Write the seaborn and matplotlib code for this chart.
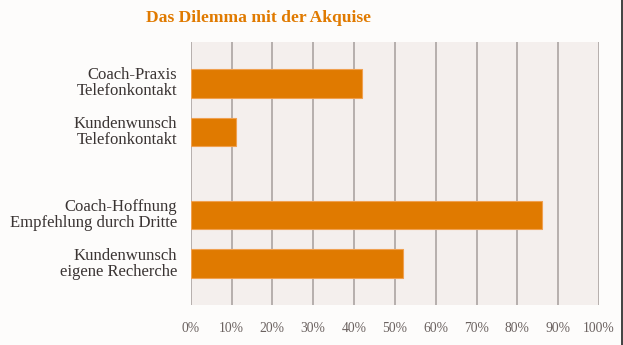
import matplotlib
matplotlib.use("Agg")
import matplotlib.pyplot as plt
import matplotlib.transforms as mtransforms
import seaborn as sns
import pandas as pd
from matplotlib.lines import Line2D
from matplotlib.ticker import FuncFormatter

categories = ["Coach-Praxis\nTelefonkontakt",
              "Kundenwunsch\nTelefonkontakt",
              "Coach-Hoffnung\nEmpfehlung durch Dritte",
              "Kundenwunsch\neigene Recherche"]
values = [42, 11, 86, 52]
x_ticks = [0, 10, 20, 30, 40, 50, 60, 70, 80, 90, 100]
title = "Das Dilemma mit der Akquise"

# layout: vertical slot of each bar (gap between the two groups)
slots = [0.0, 1.0, 2.71, 3.71]

sns.set_theme(style="white")
plt.rcParams["font.family"] = ["Liberation Serif", "DejaVu Serif"]

ORANGE = "#E07A00"
GRID = "#ABA4A2"
PLOTBG = "#F4EFED"
FIGBG = "#FDFCFB"

df = pd.DataFrame({"cat": categories, "val": values, "pos": slots})

fig = plt.figure(figsize=(6.23, 3.45), dpi=100, facecolor=FIGBG)
ax = fig.add_axes([190.7 / 623, 1 - 305 / 345, (599 - 190.7) / 623, (305 - 41.7) / 345])
ax.set_facecolor(PLOTBG)

sns.barplot(data=df, x="val", y="pos", orient="h", native_scale=True,
            color=ORANGE, saturation=1, width=0.59, edgecolor="#F0A050",
            linewidth=0.8, ax=ax, zorder=3)

ax.set_xlim(0, 100)
ax.set_ylim(slots[-1] + 0.85, slots[0] - 0.855)
ax.set_xticks(x_ticks)
ax.xaxis.set_major_formatter(FuncFormatter(lambda v, p: f"{int(v)}%"))
ax.set_yticks(slots)
ax.set_yticklabels([])
ax.tick_params(axis="y", length=0)
ax.tick_params(axis="x", length=8, width=1.2, color=GRID, pad=4,
               labelsize=9.8, labelcolor="#6B6260")

# category labels, right aligned line by line
lab_tr = ax.get_yaxis_transform() + mtransforms.ScaledTranslation(-13.5 / 100, 0, fig.dpi_scale_trans)
for cat, pos in zip(categories, slots):
    ax.text(0, pos, cat, transform=lab_tr, ha="right", va="center", ma="right",
            fontsize=12, color="#3A3433", linespacing=0.98)

ax.grid(axis="x", color=GRID, linewidth=1.2, zorder=1)
ax.set_axisbelow(True)
for s in ax.spines.values():
    s.set_visible(False)
ax.set_xlabel("")
ax.set_ylabel("")

fig.text(259 / 623, 1 - 22.3 / 345, title, ha="center", va="baseline",
         fontsize=12.6, fontweight="bold", color=ORANGE)

fig.add_artist(Line2D([621.8 / 623, 621.8 / 623], [0, 1], transform=fig.transFigure,
                      color="#333333", linewidth=1.3))

fig.savefig("out.png", dpi=100, facecolor=FIGBG)
